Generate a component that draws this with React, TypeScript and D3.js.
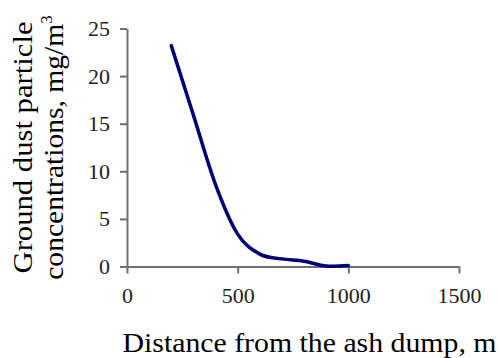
import React, { useEffect, useRef } from "react";
import * as d3 from "d3";

// distance from the ash dump, m
const distances = [200, 300, 400, 500, 600, 700, 800, 900, 1000];
// ground dust particle concentration, mg/m3
const concentrations = [23.2, 15.9, 8.6, 3.4, 1.3, 0.8, 0.55, 0.05, 0.1];
const xTicks = [0, 500, 1000, 1500];
const yTicks = [0, 5, 10, 15, 20, 25];

const W = 499;
const H = 358;
const FONT = "'Liberation Serif', 'Times New Roman', serif";

const App: React.FC = () => {
  const svgRef = useRef<SVGSVGElement>(null);

  useEffect(() => {
    if (!svgRef.current) return;
    const svg = d3.select(svgRef.current);
    svg.selectAll("*").remove();

    const x = d3.scaleLinear().domain([0, 1500]).range([127, 459]);
    const y = d3.scaleLinear().domain([0, 25]).range([266.5, 28.5]);

    // X axis
    const gx = svg.append("g")
      .attr("transform", `translate(0,${y(0)})`)
      .call(d3.axisBottom(x).tickValues(xTicks).tickFormat(d3.format("d")).tickSize(7).tickPadding(14).tickSizeOuter(0));
    gx.select(".domain").attr("stroke", "#707070").attr("stroke-width", 2);
    gx.selectAll(".tick line").attr("stroke", "#707070").attr("stroke-width", 2);
    gx.selectAll(".tick text")
      .attr("fill", "#222")
      .attr("font-family", FONT)
      .attr("font-size", 22);

    // Y axis
    const gy = svg.append("g")
      .attr("transform", `translate(${x(0)},0)`)
      .call(d3.axisLeft(y).tickValues(yTicks).tickSize(7).tickPadding(10).tickSizeOuter(0));
    gy.select(".domain").attr("stroke", "#707070").attr("stroke-width", 2);
    gy.selectAll(".tick line").attr("stroke", "#707070").attr("stroke-width", 2);
    gy.selectAll(".tick text")
      .attr("fill", "#222")
      .attr("font-family", FONT)
      .attr("font-size", 22);

    // Curve
    const points = distances.map((d, i) => [d, concentrations[i]] as [number, number]);
    const line = d3.line<[number, number]>()
      .x(d => x(d[0]))
      .y(d => y(d[1]))
      .curve(d3.curveCardinal.tension(0));

    svg.append("path")
      .datum(points)
      .attr("fill", "none")
      .attr("stroke", "#00007a")
      .attr("stroke-width", 3.5)
      .attr("stroke-linecap", "round")
      .attr("d", line);

    // X axis title
    svg.append("text")
      .attr("x", 309.5)
      .attr("y", 352)
      .attr("text-anchor", "middle")
      .attr("font-family", FONT)
      .attr("font-size", 28)
      .attr("textLength", 374)
      .attr("lengthAdjust", "spacingAndGlyphs")
      .attr("fill", "#000")
      .text("Distance from the ash dump, m");

    // Y axis title (two lines)
    const cy = (y(0) + y(25)) / 2;
    svg.append("text")
      .attr("transform", `translate(32,${cy}) rotate(-90)`)
      .attr("text-anchor", "middle")
      .attr("font-family", FONT)
      .attr("font-size", 28)
      .attr("textLength", 252)
      .attr("lengthAdjust", "spacingAndGlyphs")
      .attr("fill", "#000")
      .text("Ground dust particle");

    const t2 = svg.append("text")
      .attr("transform", `translate(63,${cy}) rotate(-90)`)
      .attr("text-anchor", "middle")
      .attr("font-family", FONT)
      .attr("font-size", 28)
      .attr("fill", "#000");
    t2.append("tspan")
      .attr("textLength", 256)
      .attr("lengthAdjust", "spacingAndGlyphs")
      .text("concentrations, mg/m");
    t2.append("tspan").attr("dy", -11).attr("font-size", 17).text("3");
  }, []);

  return (
    <svg
      ref={svgRef}
      width={W}
      height={H}
      style={{ position: "absolute", left: 0, top: 0, background: "#fff" }}
    />
  );
};

export default App;
